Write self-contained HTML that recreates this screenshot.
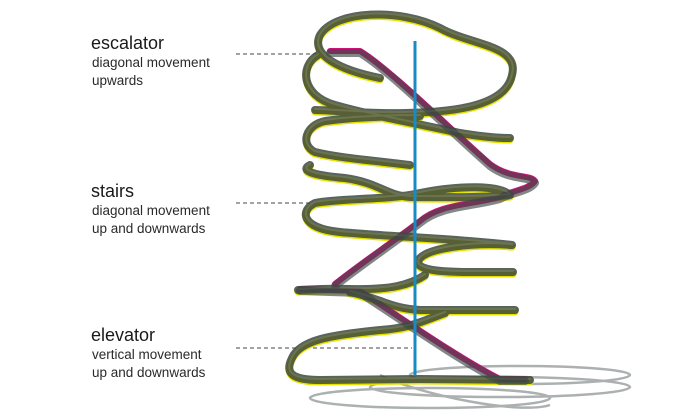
<!DOCTYPE html>
<html><head><meta charset="utf-8"><style>
html,body{margin:0;padding:0;background:#fff;width:700px;height:420px;overflow:hidden}
svg{position:absolute;left:0;top:0}
text{font-family:"Liberation Sans",sans-serif;fill:#1a1a1a}
.t{font-size:18px}.s{font-size:13.5px;fill:#2a2a2a}
</style></head><body>
<svg width="700" height="420" viewBox="0 0 700 420">
<!-- shadow -->
<g fill="none" stroke="#8a9090" stroke-width="2.5" opacity="0.7">
<ellipse cx="520" cy="375" rx="110" ry="9"/>
<ellipse cx="500" cy="387" rx="130" ry="10"/>
<ellipse cx="430" cy="398" rx="120" ry="10"/>
<path d="M380 375 C420 395 520 415 550 405"/>
</g>
<!-- labels -->
<text class="t" x="91" y="49">escalator</text>
<text class="s" x="92" y="67">diagonal movement</text>
<text class="s" x="92" y="85">upwards</text>
<text class="t" x="91" y="197">stairs</text>
<text class="s" x="92" y="215">diagonal movement</text>
<text class="s" x="92" y="233">up and downwards</text>
<text class="t" x="91" y="341">elevator</text>
<text class="s" x="92" y="359">vertical movement</text>
<text class="s" x="92" y="377">up and downwards</text>
<g stroke="#444" stroke-width="1" stroke-dasharray="4,3">
<line x1="236" y1="54" x2="318" y2="54"/>
<line x1="236" y1="203" x2="315" y2="203"/>
<line x1="236" y1="348" x2="412" y2="348"/>
</g>
<defs>
<g id="coil">
<path d="M380 78 C340 70 310 55 320 35 C335 10 400 8 440 28 C470 45 520 45 512 75 C505 110 440 112 405 113 C370 114 330 110 315 110"/>
<path d="M318 55 C300 65 300 95 335 105 C370 115 410 122 460 133 C490 138 505 138 510 138"/>
<path d="M410 165 C370 160 340 158 315 152 C300 145 305 125 325 121 C360 116 400 116 420 116"/>
<path d="M310 165 C300 170 310 175 345 178 C380 183 385 195 410 197 C440 197 480 198 510 195 C500 185 460 185 420 193 C390 200 340 198 315 203 C300 210 300 228 340 232 C380 236 450 238 512 245"/>
<path d="M512 245 C470 242 430 248 420 258 C412 268 430 272 470 272 L513 272"/>
<path d="M425 275 C410 285 390 290 350 289 C320 288 305 290 298 290"/>
<path d="M350 292 C385 300 390 308 420 310 L515 310"/>
<path d="M445 313 C420 322 410 328 380 330 C330 335 300 340 292 358 C285 372 290 380 320 380 L420 379 L530 380"/>
</g>
<g id="diag">
<path d="M330 52 L360 52 C390 70 450 130 490 165 C510 180 530 175 535 182 C530 190 510 192 500 198 C470 206 440 205 420 222 C390 245 360 265 335 285"/>
<path d="M300 290 L360 292 C400 318 460 360 500 380 L525 380"/>
</g>
</defs>
<g fill="none" stroke-linecap="round" stroke-linejoin="round">
<use href="#coil" stroke="#e6e200" stroke-width="7" transform="translate(0,2)"/>
<use href="#diag" stroke="#d0107a" stroke-width="6" transform="translate(0,-1)"/>
<use href="#coil" stroke="#3d4a3e" stroke-width="8" opacity="0.85"/>
<use href="#coil" stroke="#7b8060" stroke-width="2" opacity="0.6" transform="translate(0,-1)"/>
<use href="#diag" stroke="#3d4a46" stroke-width="8" opacity="0.65" transform="translate(0,1)"/>
</g>
<line x1="415" y1="41" x2="415" y2="375" stroke="#1a8bc2" stroke-width="3"/>
</svg>
</body></html>
